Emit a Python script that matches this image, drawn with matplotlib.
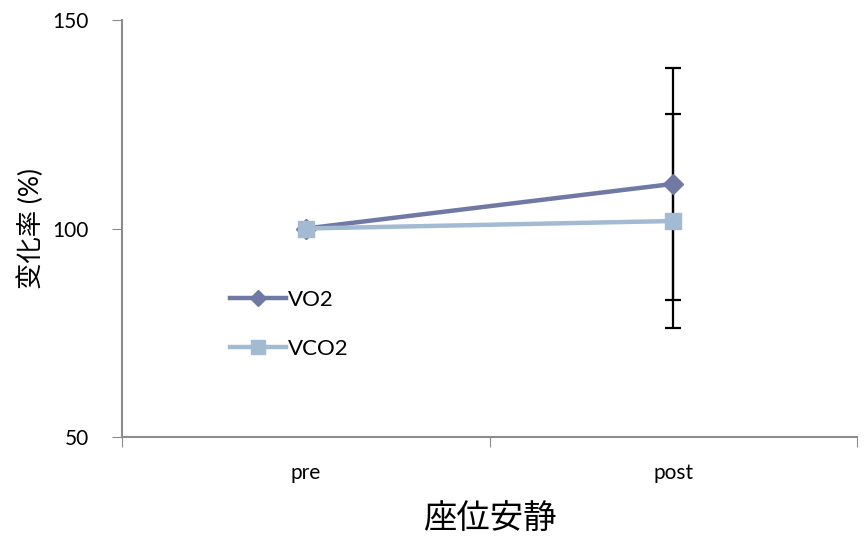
import matplotlib
matplotlib.use("Agg")
import matplotlib.pyplot as plt

plt.rcParams['font.family'] = ['Lato', 'Noto Sans CJK JP', 'DejaVu Sans']

# data
categories = ["pre", "post"]
vo2 = [100.0, 110.7]
vco2 = [100.0, 101.8]
vo2_err = [0.0, 27.8]
vco2_err = [0.0, 25.6]
yticks = [50, 100, 150]

c_vo2 = "#6f79a3"
c_vco2 = "#a2bad2"
axis_col = "#8c8c8c"

fig = plt.figure(figsize=(8.66, 5.4), dpi=100)
ax = fig.add_axes([0.1409, 0.1907, 0.8487, 0.7723])
x = list(range(len(categories)))

ax.errorbar(x, vo2, yerr=vo2_err, fmt="none", ecolor="black", elinewidth=1.6,
            capsize=6, capthick=1.6, zorder=2)
ax.errorbar(x, vco2, yerr=vco2_err, fmt="none", ecolor="black", elinewidth=1.6,
            capsize=6, capthick=1.6, zorder=2)
ax.plot(x, vo2, color=c_vo2, lw=3.2, marker="D", ms=10, mec=c_vo2, label="VO2", zorder=3)
ax.plot(x, vco2, color=c_vco2, lw=3.2, marker="s", ms=12, mec=c_vco2, label="VCO2", zorder=4)

ax.set_xlim(-0.5, 1.5)
ax.set_ylim(50, 150)
ax.set_yticks(yticks)
ax.set_yticklabels([str(v) for v in yticks], fontsize=15)
ax.set_xticks([-0.5, 0.5, 1.5])
ax.set_xticklabels([])
ax.set_xticks(x, minor=True)
ax.set_xticklabels(categories, minor=True, fontsize=15)
ax.tick_params(axis="x", which="minor", length=0, pad=19)
ax.tick_params(axis="x", which="major", length=7, color=axis_col, direction="out")
ax.tick_params(axis="y", length=7, color=axis_col, direction="out", pad=17)
for s in ["top", "right"]:
    ax.spines[s].set_visible(False)
for s in ["left", "bottom"]:
    ax.spines[s].set_color(axis_col)
    ax.spines[s].set_linewidth(1.5)

ax.set_ylabel("变化率 (%)", fontsize=19, labelpad=6)
ax.set_xlabel("座位安静", fontsize=24, labelpad=14)

ax.legend(loc="upper left", bbox_to_anchor=(0.12, 0.4), frameon=False, fontsize=16,
          handlelength=2.5, handletextpad=0.1, labelspacing=1.3, markerscale=0.85)

fig.savefig("out.png", dpi=100)
